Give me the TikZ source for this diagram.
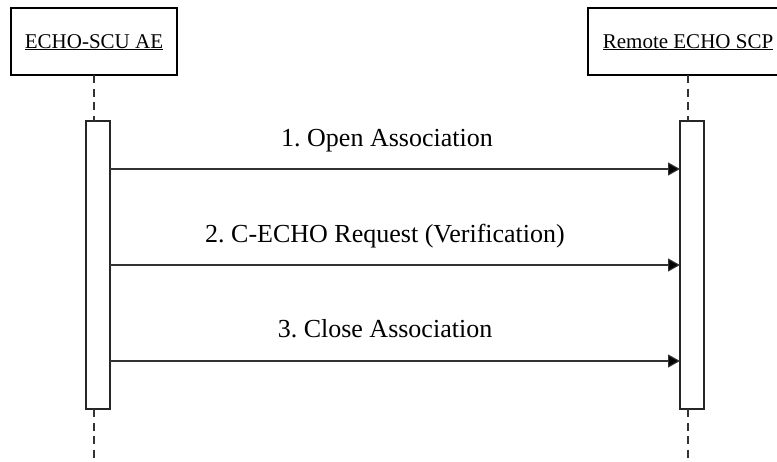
\documentclass[tikz,border=0pt]{standalone}
\usepackage{fontspec}
\setmainfont{Liberation Serif}
\usetikzlibrary{arrows.meta}
\frenchspacing
\begin{document}
\begin{tikzpicture}[x=1pt,y=-1pt,
  objbox/.style={draw=black,line width=1.1pt,rectangle,inner sep=0pt},
  objlabel/.style={font=\fontsize{21}{24}\selectfont,inner sep=0pt,anchor=base},
  actbar/.style={draw=black!85,line width=1.1pt,fill=white,rectangle,inner sep=0pt,minimum width=24pt,minimum height=288pt},
  lifeline/.style={draw=black!80,line width=1.3pt,dash pattern=on 8pt off 5.5pt},
  msg/.style={draw=black!80,line width=1.1pt,-{Triangle[length=12pt,width=13pt,fill=black]}},
  msglabel/.style={font=\fontsize{26}{30}\selectfont,inner sep=0pt,anchor=base}]
\useasboundingbox (0,0) rectangle (777,461);
% object boxes
\node[objbox,minimum width=166pt,minimum height=67pt] (scu) at (94,41.5) {};
\node[objlabel] (scul) at (94,48) {\underline{ECHO-SCU AE}};
\node[objbox,minimum width=200pt,minimum height=67pt] (scp) at (688,41.5) {};
\node[objlabel] (scpl) at (688,48) {\underline{Remote ECHO SCP}};
% activation bars
\node[actbar] (barL) at (98,265) {};
\node[actbar] (barR) at (692,265) {};
% lifeline ends
\coordinate (topL) at (94,75);
\coordinate (topLb) at (94,121);
\coordinate (botL) at (94,409);
\coordinate (endL) at (94,461);
\coordinate (topR) at (688,75);
\coordinate (topRb) at (688,121);
\coordinate (botR) at (688,409);
\coordinate (endR) at (688,461);
\draw[lifeline] (topL) -- (topLb);
\draw[lifeline] (botL) -- (endL);
\draw[lifeline] (topR) -- (topRb);
\draw[lifeline] (botR) -- (endR);
% messages
\coordinate (s1) at (110,169); \coordinate (e1) at (680,169);
\coordinate (s2) at (110,265); \coordinate (e2) at (680,265);
\coordinate (s3) at (110,361); \coordinate (e3) at (680,361);
\draw[msg] (s1) -- (e1);
\draw[msg] (s2) -- (e2);
\draw[msg] (s3) -- (e3);
\node[msglabel] (m1) at (387,146) {1. Open Association};
\node[msglabel] (m2) at (385,242) {2. C-ECHO Request (Verification)};
\node[msglabel] (m3) at (385,337) {3. Close Association};
\end{tikzpicture}
\end{document}
